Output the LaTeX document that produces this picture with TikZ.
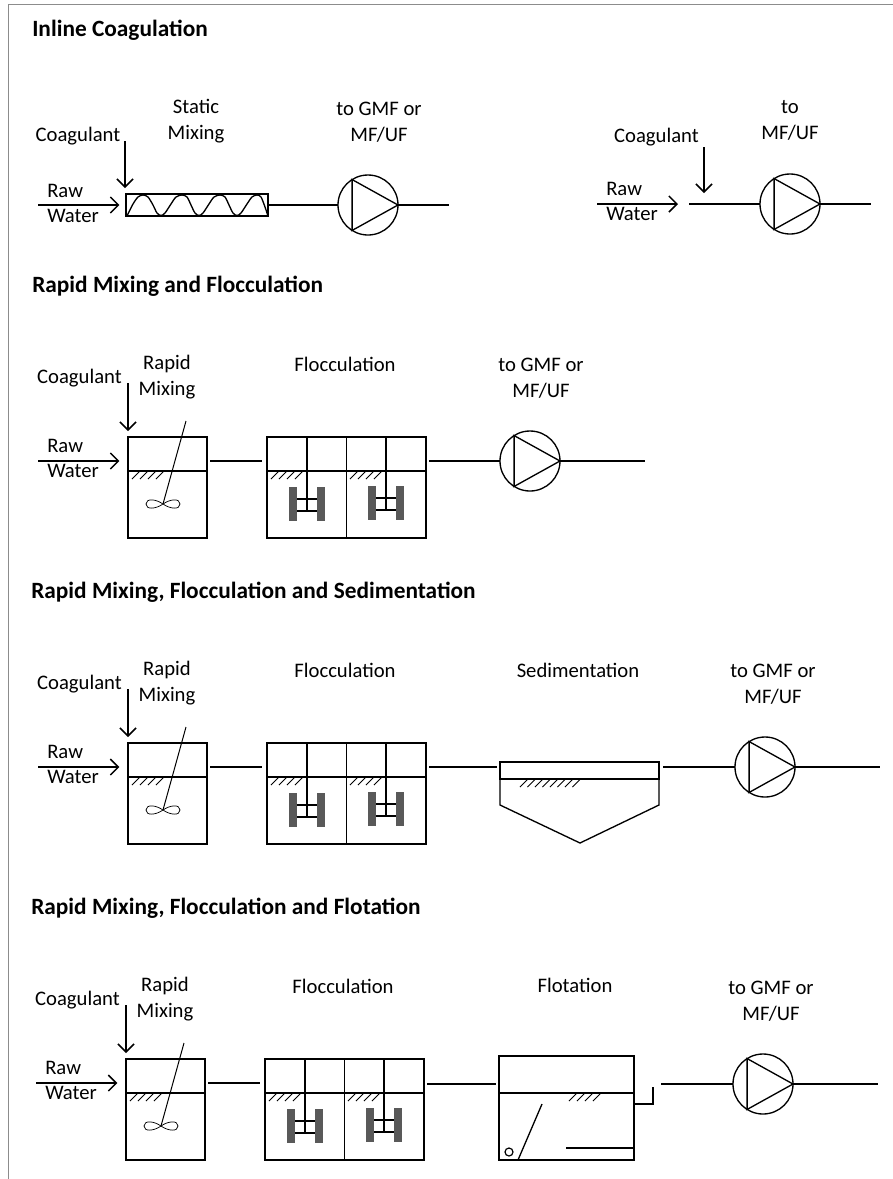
\documentclass[tikz,border=0pt]{standalone}
\usepackage{fontspec}
\setmainfont{Carlito}
\usepackage{xcolor}
\usetikzlibrary{calc,arrows.meta}
\definecolor{Frame}{HTML}{8C8C8C}
\definecolor{Paddle}{HTML}{595959}
\tikzset{
  label/.style={align=center,inner sep=0pt,font=\fontsize{15.5}{19.5}\selectfont},
  rawlabel/.style={align=left,anchor=west,inner sep=0pt,font=\fontsize{15.5}{18.75}\selectfont},
  title/.style={anchor=west,inner sep=0pt,font=\fontsize{17.5}{20}\selectfont\bfseries},
  pipe/.style={line width=1pt},
  thin pipe/.style={line width=.75pt},
  flow/.style={-{Straight Barb[length=6pt,width=12pt,line width=1.1pt]},line width=1.2pt},
  tankbox/.style={draw,line width=1pt,inner sep=0pt,outer sep=0pt},
  pumpbox/.style={draw,circle,line width=1pt,inner sep=0pt,outer sep=0pt,minimum size=45pt},
}
% px helpers
\newcommand{\hatch}[4]{\foreach \i in {1,...,#3} \draw[thin pipe] ({#1+(\i-1)*#4},#2+8)--({#1+8+(\i-1)*#4},#2);}
\newcommand{\pump}[4]{%
  \node[pumpbox] (#1) at (#2,#3) {};
  \draw[pipe] (#1.122)--(#1.0)--(#1.238)--cycle;
  \coordinate (#1out) at (#4,#3);
  \draw[pipe] (#1.east)--(#1out);}
\newcommand{\paddles}[4]{%
  \fill[Paddle] (#1-18,#3-24) rectangle (#1-10,#3+10);
  \fill[Paddle] (#1+10,#3-24) rectangle (#1+18,#3+10);
  \draw[pipe] (#1-10,#3-12)--(#1+10,#3-12);
  \draw[pipe] (#1-10,#3)--(#1+10,#3);
  \draw[pipe] (#2,#4)--(#1,#3);}
\newcommand{\mixrow}[3]{%
\begin{scope}[shift={(#2,#3)}]
  \node[tankbox,minimum width=59.25pt,minimum height=75.75pt] (rapid#1) at (167.5,487.5) {};
  \draw[pipe] (rapid#1.west |- 0,471)--(rapid#1.east |- 0,471);
  \hatch{132}{471}{4}{8}
  \coordinate (stir#1) at (186,421);
  \draw[thin pipe] (stir#1)--(163,504);
  \draw[line width=.55pt] (163,504) .. controls (156,499) and (146,498) .. (146,504) .. controls (146,510) and (156,509) .. (163,504) .. controls (170,499) and (180,498) .. (180,504) .. controls (180,510) and (170,509) .. (163,504);
  \node[label] (coag#1) at (79.5,378) {Coagulant};
  \coordinate (coag#1top) at (128,383);
  \draw[flow,shorten >=4.5pt] (coag#1top)--(rapid#1.north west);
  \node[rawlabel] (raw#1) at (47,458.5) {Raw\\Water};
  \coordinate (raw#1in) at (38,461);
  \draw[flow,shorten >=6.5pt] (raw#1in)--(rapid#1.west |- raw#1in);
  \node[label] (mixlabel#1) at (167,377) {Rapid\\Mixing};
  \node[tankbox,minimum width=119.25pt,minimum height=75.75pt] (floc#1) at (346.5,487.5) {};
  \draw[line width=1.25pt] (floc#1.north)--(floc#1.south);
  \draw[pipe] (floc#1.west |- 0,471)--(floc#1.east |- 0,471);
  \hatch{271}{471}{4}{8}
  \hatch{350}{471}{4}{8}
  \draw[pipe] (307,437)--(307,471);
  \draw[pipe] (386,437)--(386,471);
  \paddles{307}{307}{511}{471}
  \paddles{386}{386}{510}{471}
  \node[label] (floclabel#1) at (345,364) {Flocculation};
  \draw[pipe,shorten <=2.5pt,shorten >=3.5pt] (rapid#1.east |- raw#1in)--(floc#1.west |- raw#1in);
\end{scope}}
\begin{document}
\begin{tikzpicture}[x=.75pt,y=-.75pt]
\useasboundingbox (0,0) rectangle (893,1179);
\fill[white] (0,0) rectangle (893,1179);
\draw[Frame,line width=1.1pt] (8.5,1179)--(8.5,4.5)--(893,4.5);

% inline coagulation
\node[title] (titleA) at (32,30) {Inline Coagulation};
\node[tankbox,minimum width=106.5pt,minimum height=16.5pt] (mixerA) at (197,205) {};
\draw[pipe] plot[smooth,tension=.5] coordinates {(127,216) (133,204) (138,197) (143,195) (148,197) (153,205) (157,213) (161,215.5) (165,213) (171,204) (176,197) (182,195) (187,197) (191,205) (195,213) (199,215.5) (203,213) (209,204) (214,197) (220,195) (225,197) (229,205) (233,213) (237,215.5) (241,213) (247,204) (252,197) (257,195) (261,197) (265,207) (268,216)};
\node[label] (coagA) at (78,136) {Coagulant};
\coordinate (coagAtop) at (125,141);
\draw[flow,shorten >=4.5pt] (coagAtop)--(125,194);
\node[rawlabel] (rawA) at (47,203.5) {Raw\\Water};
\coordinate (rawAin) at (38,205);
\draw[flow,shorten >=5pt] (rawAin)--(mixerA.west |- rawAin);
\node[label] (mixlabelA) at (196,121) {Static\\Mixing};
\pump{pumpA}{368}{205}{449}
\draw[pipe] (mixerA.east)--(pumpA.west);
\node[label] (pumplabelA) at (379,122) {to GMF or\\MF/UF};

\node[label] (coagE) at (656.5,137) {Coagulant};
\coordinate (coagEtop) at (704,147);
\coordinate (coagEend) at (704,193);
\draw[flow] (coagEtop)--(coagEend);
\node[rawlabel] (rawE) at (606,201) {Raw\\Water};
\coordinate (rawEin) at (597,204);
\coordinate (rawEend) at (678,204);
\draw[flow] (rawEin)--(rawEend);
\pump{pumpE}{790}{204}{871}
\coordinate (pipeE) at (689,204);
\draw[pipe] (pipeE)--(pumpE.west);
\node[label] (pumplabelE) at (790,120.5) {to\\MF/UF};

% rapid mixing and flocculation
\node[title] (titleB) at (32,286) {Rapid Mixing and Flocculation};
\mixrow{B}{0}{0}
\pump{pumpB}{530}{461}{645}
\draw[pipe,shorten <=2.5pt] (flocB.east |- pumpB)--(pumpB.west);
\node[label] (pumplabelB) at (541,378) {to GMF or\\MF/UF};

% rapid mixing, flocculation and sedimentation
\node[title] (titleC) at (31,592) {Rapid Mixing, Flocculation and Sedimentation};
\mixrow{C}{0}{306}
\node[tankbox,minimum width=119.25pt,minimum height=12.75pt] (sedtop) at (579.5,770.5) {};
\draw[pipe] (sedtop.south west)--(500,805)--(580,843)--(659,805)--(sedtop.south east);
\hatch{520}{779}{8}{7.5}
\pump{pumpC}{765}{767}{880}
\draw[pipe,shorten <=2.5pt,shorten >=2.5pt] (flocC.east |- pumpC)--(sedtop.west |- pumpC);
\draw[pipe,shorten <=3pt] (sedtop.east |- pumpC)--(pumpC.west);
\node[label] (sedlabel) at (578,670) {Sedimentation};
\node[label] (pumplabelC) at (773,684) {to GMF or\\MF/UF};

% rapid mixing, flocculation and flotation
\node[title] (titleD) at (31,908) {Rapid Mixing, Flocculation and Flotation};
\mixrow{D}{-2}{622}
\node[tankbox,minimum width=101.25pt,minimum height=78pt] (flot) at (566.5,1108) {};
\draw[pipe] (flot.west |- 0,1093)--(flot.east |- 0,1093);
\hatch{569}{1093}{4}{8}
\coordinate (weir) at (653,1087);
\draw[pipe] (flot.east |- 0,1104)-|(weir);
\draw[pipe] (542,1104)--(518,1160);
\node[draw,circle,line width=.9pt,inner sep=0pt,minimum size=6pt] (bubble) at (509,1152) {};
\draw[pipe] (566,1148)--(flot.east |- 0,1148);
\pump{pumpD}{763}{1084}{878}
\draw[pipe,shorten <=2.5pt,shorten >=2.5pt] (flocD.east |- pumpD)--(flot.west |- pumpD);
\coordinate (pipeD) at (661,1084);
\draw[pipe] (pipeD)--(pumpD.west);
\node[label] (flotlabel) at (575,985) {Flotation};
\node[label] (pumplabelD) at (771,1001) {to GMF or\\MF/UF};
\end{tikzpicture}
\end{document}
